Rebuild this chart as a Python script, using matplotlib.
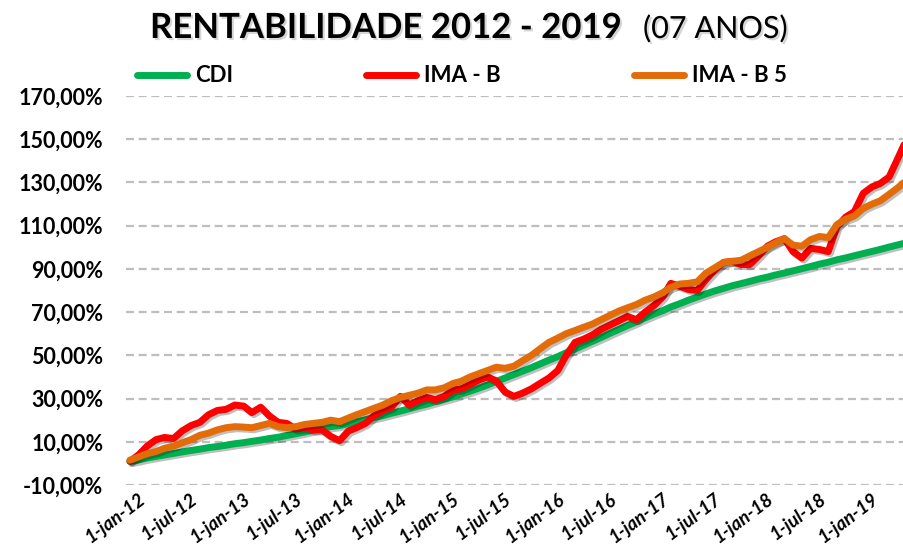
import pandas as pd
import matplotlib
matplotlib.use('Agg')
import matplotlib.pyplot as plt
import matplotlib.patheffects as pe
import matplotlib.transforms as mtransforms

plt.rcParams['font.family'] = ['Lato', 'DejaVu Sans']

# Monthly cumulative returns (%), Jan 2012 -> Jun 2019
months = pd.date_range('2012-01-01', periods=90, freq='MS')

cdi = [0.9, 1.6, 2.5, 3.2, 3.9, 4.6, 5.3, 6.0, 6.6, 7.3, 7.8, 8.4,
       9.1, 9.6, 10.2, 10.8, 11.5, 12.1, 12.9, 13.7, 14.5, 15.4, 16.2, 17.0,
       17.5, 18.4, 19.3, 20.2, 21.2, 22.1, 23.2, 24.2, 25.3, 26.4, 27.4, 28.6,
       29.7, 30.8, 32.1, 33.4, 34.8, 36.3, 37.9, 39.5, 41.1, 42.7, 44.3, 46.0,
       47.8, 49.4, 51.2, 52.9, 54.7, 56.5, 58.3, 60.2, 62.0, 63.8, 65.5, 67.3,
       69.1, 70.7, 72.4, 73.9, 75.5, 77.0, 78.4, 79.8, 81.0, 82.2, 83.2, 84.2,
       85.3, 86.2, 87.2, 88.1, 89.1, 90.1, 91.1, 92.2, 93.1, 94.2, 95.1, 96.1,
       97.1, 98.1, 99.0, 100.1, 101.1, 102.1]

ima_b = [1.0, 4.0, 8.0, 11.0, 12.0, 11.5, 15.0, 17.5, 19.0, 22.5, 24.5, 25.0,
         27.0, 26.5, 23.5, 26.0, 22.0, 19.0, 18.5, 16.0, 16.5, 15.5, 15.5, 12.5,
         10.5, 15.0, 16.5, 18.5, 22.0, 24.5, 26.0, 31.0, 27.0, 29.0, 30.5, 29.5,
         31.0, 34.0, 34.5, 36.5, 38.5, 40.0, 38.2, 33.0, 31.0, 32.5, 34.5, 37.0,
         39.5, 43.0, 50.0, 56.0, 57.5, 59.5, 62.0, 64.0, 66.0, 68.0, 66.5, 70.0,
         73.0, 77.0, 83.3, 82.0, 80.5, 80.0, 85.0, 89.5, 93.0, 93.5, 92.0, 92.0,
         96.0, 100.5, 102.5, 104.0, 98.0, 95.0, 99.5, 99.0, 98.0, 109.5, 114.0, 116.5,
         125.0, 128.0, 129.5, 132.5, 141.0, 150.0]

ima_b5 = [1.5, 3.0, 4.5, 5.5, 7.0, 8.0, 9.5, 11.0, 13.0, 14.0, 15.5, 16.5,
          17.0, 16.8, 16.5, 17.5, 18.5, 17.0, 16.5, 17.0, 18.0, 18.5, 19.0, 20.0,
          19.3, 21.0, 22.5, 24.0, 25.5, 27.0, 29.0, 30.5, 31.5, 32.5, 34.0, 34.0,
          35.0, 37.0, 38.0, 40.0, 41.5, 43.0, 44.5, 44.0, 45.0, 47.5, 50.0, 53.0,
          56.0, 58.0, 60.0, 61.5, 63.0, 64.5, 66.5, 68.5, 70.5, 72.0, 73.5, 75.5,
          77.0, 79.0, 81.5, 83.0, 83.3, 84.0, 88.0, 90.5, 93.0, 93.5, 94.0, 96.0,
          98.0, 100.0, 102.0, 104.0, 101.0, 100.5, 103.5, 105.0, 104.5, 110.5, 113.0, 114.5,
          118.0, 120.0, 121.5, 124.5, 127.5, 131.0]

tick_dates = pd.date_range('2012-01-01', '2019-01-01', freq='6MS')
tick_labels = ['1-jan-12', '1-jul-12', '1-jan-13', '1-jul-13', '1-jan-14', '1-jul-14',
               '1-jan-15', '1-jul-15', '1-jan-16', '1-jul-16', '1-jan-17', '1-jul-17',
               '1-jan-18', '1-jul-18', '1-jan-19']
y_ticks = [-10, 10, 30, 50, 70, 90, 110, 130, 150, 170]
y_labels = ['-10,00%', '10,00%', '30,00%', '50,00%', '70,00%', '90,00%',
            '110,00%', '130,00%', '150,00%', '170,00%']

W, H = 904, 560
fig = plt.figure(figsize=(W / 100, H / 100), dpi=100)
ax = fig.add_axes([125.6 / W, 75 / H, (W - 125.6) / W, 389 / H])

shadow = [pe.SimpleLineShadow(offset=(1.5, -1.5), shadow_color='k', alpha=0.25), pe.Normal()]
ax.plot(months, cdi, color='#00B050', lw=5, label='CDI', solid_capstyle='round',
        solid_joinstyle='round', path_effects=shadow)
ax.plot(months, ima_b, color='#FF0000', lw=5, label='IMA - B', solid_capstyle='round',
        solid_joinstyle='round', path_effects=shadow)
ax.plot(months, ima_b5, color='#E36C09', lw=5, label='IMA - B 5', solid_capstyle='round',
        solid_joinstyle='round', path_effects=shadow)

ax.set_xlim(pd.Timestamp('2011-12-17'), pd.Timestamp('2019-05-23'))
ax.set_ylim(-10, 170)

ax.set_yticks(y_ticks)
ax.set_yticklabels(y_labels, fontsize=15.5, fontweight='bold')
ax.yaxis.grid(True, color='#BEBEBE', lw=1.6, linestyle=(0, (3.6, 2.1)))
ax.set_axisbelow(True)
ax.tick_params(axis='y', length=0, pad=16)

ax.set_xticks(tick_dates)
ax.set_xticklabels(tick_labels, rotation=37, ha='right', va='center',
                   rotation_mode='anchor', fontsize=13.5, fontweight='bold', style='italic')
ax.tick_params(axis='x', length=0, pad=9)
offset = mtransforms.ScaledTranslation(0.13, 0, fig.dpi_scale_trans)
for lbl in ax.get_xticklabels():
    lbl.set_transform(lbl.get_transform() + offset)

for s in ax.spines.values():
    s.set_visible(False)

# Title with soft shadow
title_fx = [pe.SimplePatchShadow(offset=(1.5, -1.5), shadow_rgbFace='#777777', alpha=0.3), pe.Normal()]
fig.text(150 / W, 1 - 38 / H, 'RENTABILIDADE 2012 - 2019', fontsize=25, fontweight='bold',
         ha='left', va='baseline', path_effects=title_fx)
fig.text(643 / W, 1 - 38 / H, '(07 ANOS)', fontsize=22, ha='left', va='baseline',
         path_effects=title_fx)

leg = fig.legend(loc='center left', bbox_to_anchor=(137 / W, 1 - 76 / H), ncol=3,
                 frameon=False, prop={'weight': 'bold', 'size': 16},
                 handlelength=2.25, handletextpad=0.36, columnspacing=6.0,
                 borderpad=0, borderaxespad=0)
for h in leg.get_lines():
    h.set_linewidth(5)
    h.set_solid_capstyle('round')
    h.set_path_effects([])

fig.savefig('out.png', dpi=100)
